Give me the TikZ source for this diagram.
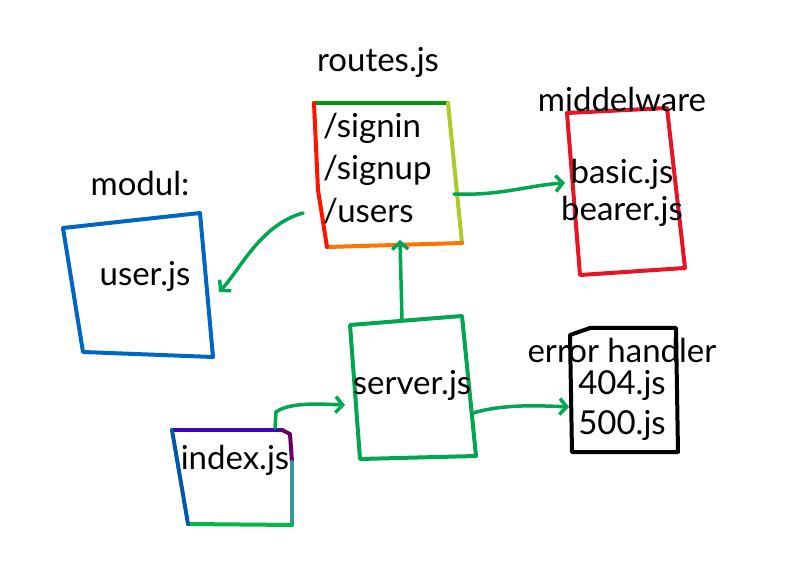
\documentclass[tikz,border=0pt]{standalone}
\usepackage{fontspec}
\setmainfont{Lato}
\usetikzlibrary{arrows.meta}
\definecolor{ggreen}{RGB}{0,166,80}
\definecolor{bblue}{RGB}{0,102,196}
\definecolor{rred}{RGB}{232,20,36}
\tikzset{
  box/.style={line width=4pt, line join=round, line cap=round},
  conn/.style={line width=3.5pt, ggreen, line cap=round, -{Straight Barb[length=7pt,width=16pt,line width=3.5pt]}},
  lbl/.style={font=\fontsize{33}{36}\selectfont, inner sep=0pt},
}
\begin{document}
\begin{tikzpicture}[x=1pt,y=-1pt]
\useasboundingbox (0,0) rectangle (796,572);
\fill[white] (0,0) rectangle (796,572);
% routes box (gradient-like sides)
\draw[box, green!60!black] (314,103) -- (448,103);
\draw[box, yellow!70!green!90!black] (448,103) -- (462,243);
\draw[box, orange!90!red] (462,243) -- (327,247);
\draw[box, red!85!orange] (327,247) -- (318,190) -- (314,103);
\node[lbl] (routes) at (378,62) {routes.js};
\node[lbl, anchor=west] (signin) at (323,128) {/signin};
\node[lbl, anchor=west] (signup) at (323,170) {/signup};
\node[lbl, anchor=west] (users) at (323,211) {/users};
% middleware
\draw[box, rred] (567,113) -- (667,108) -- (685,268) -- (580,275) -- cycle;
\node[lbl] (mw) at (622,99) {middelware};
\node[lbl] (basic) at (622,174) {basic.js};
\node[lbl] (bearer) at (622,211) {bearer.js};
% modul
\draw[box, bblue] (63,228) -- (200,213) -- (213,357) -- (83,352) -- cycle;
\node[lbl] (modul) at (140,183) {modul:};
\node[lbl] (user) at (145,276) {user.js};
% server
\draw[box, ggreen] (350,325) -- (462,316) -- (476,456) -- (360,459) -- cycle;
\node[lbl] (server) at (412,385) {server.js};
% error handler
\draw[box, black] (570,335) -- (590,328) -- (676,328) -- (678,452) -- (572,452) -- cycle;
\node[lbl] (err) at (622,350) {error handler};
\node[lbl] (e404) at (622,385) {404.js};
\node[lbl] (e500) at (622,425) {500.js};
% index
\draw[box, blue!50!violet] (172,430) -- (282,430);
\draw[box, violet!80!black] (282,430) -- (290,434) -- (292,462);
\draw[box, teal!80] (292,462) -- (292,525);
\draw[box, green!45!teal] (292,525) -- (188,524);
\draw[box, teal!70!blue] (188,524) -- (172,430);
\node[lbl] (index) at (235,460) {index.js};
% connector endpoints
\coordinate (r1) at (454,194);
\coordinate (m1) at (565,183);
\coordinate (r2) at (303,213);
\coordinate (u1) at (219,292);
\coordinate (s1) at (402,320);
\coordinate (r3) at (400,240);
\coordinate (s2) at (473,413);
\coordinate (e1) at (569,407);
\coordinate (i1) at (275,428);
\coordinate (s3) at (345,405);
% connectors
\draw[conn] (r1) .. controls (500,196) and (530,185) .. (m1);
\draw[conn] (r2) .. controls (260,225) and (240,270) .. (u1);
\draw[conn] (s1) -- (r3);
\draw[conn] (s2) .. controls (500,405) and (530,405) .. (e1);
\draw[conn] (i1) -- (276,412) .. controls (290,402) and (320,404) .. (s3);
\end{tikzpicture}
\end{document}
